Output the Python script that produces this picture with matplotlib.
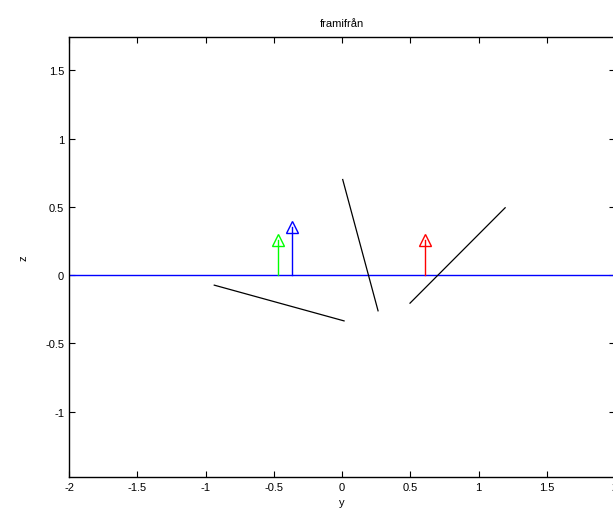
import matplotlib
matplotlib.use("Agg")
import matplotlib.pyplot as plt

plt.rcParams['font.family'] = ['Liberation Sans', 'DejaVu Sans']

# pilar (y-position, höjd, färg)
arrow_y = [-0.467, -0.367, 0.605]
arrow_z = [0.26, 0.35, 0.26]
arrow_c = ["#00ff00", "#0000ff", "#ff0000"]

# svarta linjer: (y0, y1), (z0, z1)
seg_y = [(-0.936, 0.015), (0.005, 0.264), (0.498, 1.195)]
seg_z = [(-0.074, -0.336), (0.70, -0.262), (-0.206, 0.493)]

# marknivå
ground_y = [-2, 2]
ground_z = [0, 0]

fig = plt.figure(figsize=(6.13, 5.10), dpi=100)
ax = fig.add_axes([0.1126, 0.0627, 0.8907, 0.8627])

ax.plot(ground_y, ground_z, color="#0000ff", lw=1)
for y, z, c in zip(arrow_y, arrow_z, arrow_c):
    ax.plot([y, y], [0, z], color=c, lw=1)
    ax.plot([y], [z], marker="^", mfc="none", mec=c, ms=9, mew=1)
for ys, zs in zip(seg_y, seg_z):
    ax.plot(ys, zs, color="black", lw=0.9)

ax.set_xlim(-2, 2)
ax.set_ylim(-1.48, 1.744)
ax.set_xticks([-2, -1.5, -1, -0.5, 0, 0.5, 1, 1.5, 2])
ax.set_xticklabels(["-2", "-1.5", "-1", "-0.5", "0", "0.5", "1", "1.5", "2"])
ax.set_yticks([-1, -0.5, 0, 0.5, 1, 1.5])
ax.set_yticklabels(["-1", "-0.5", "0", "0.5", "1", "1.5"])
ax.tick_params(direction="in", top=True, right=True, labelsize=8, length=4, width=0.8)
for s in ax.spines.values():
    s.set_linewidth(1)

ax.set_title("framifrån", fontsize=8, pad=8)
ax.set_xlabel("y", fontsize=8, labelpad=4)
ax.set_ylabel("z", fontsize=8, labelpad=12)

fig.savefig("out.png", dpi=100)
